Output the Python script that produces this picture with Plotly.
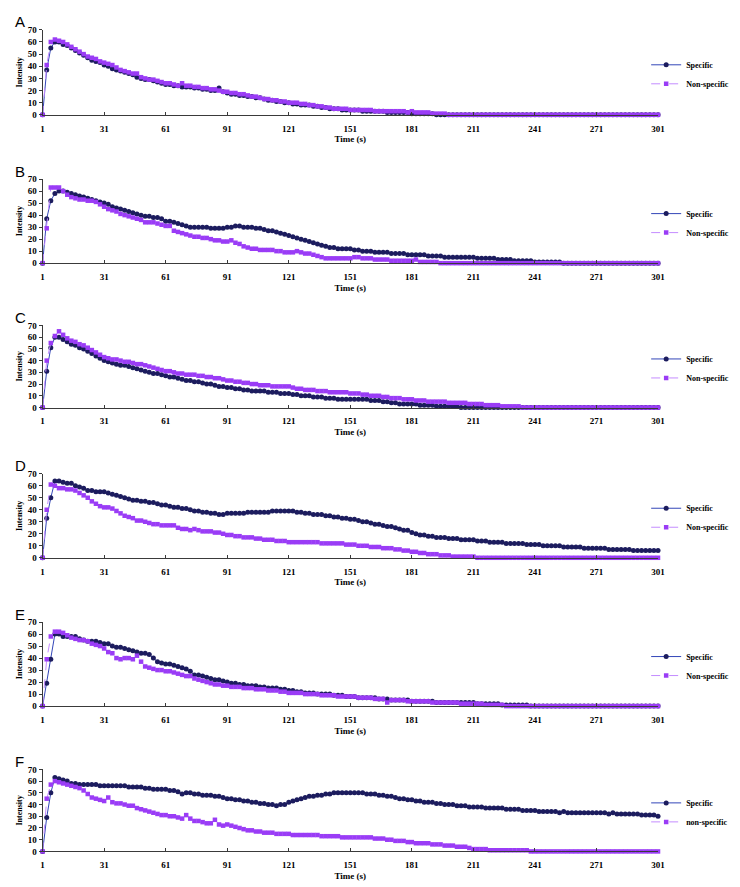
import plotly.graph_objects as go

TIME_S = list(range(1, 302, 2))
X_TICKS = [1, 31, 61, 91, 121, 151, 181, 211, 241, 271, 301]
Y_TICKS = [0, 10, 20, 30, 40, 50, 60, 70]
PANEL_LETTERS = ["A", "B", "C", "D", "E", "F"]
SPEC_NAMES = ["Specific", "Specific", "Specific", "Specific", "Specific", "Specific"]
NON_NAMES = ["Non-specific", "Non-specific", "Non-specific", "Non-specific", "Non-specific", "non-specific"]

A_SPECIFIC = [
    0, 37, 55, 60, 60, 58, 57, 55, 53, 51, 49, 47, 45, 44, 43,
    41, 40, 38, 37, 36, 35, 34, 33, 31, 30, 29, 29, 28, 27, 26,
    25, 25, 24, 24, 23, 23, 23, 22, 22, 21, 21, 20, 20, 22, 19,
    18, 17, 17, 16, 16, 15, 15, 14, 14, 13, 12, 12, 11, 11, 10,
    10, 9, 9, 8, 8, 8, 7, 7, 6, 6, 5, 5, 5, 4, 4,
    4, 4, 4, 3, 3, 3, 3, 3, 3, 2, 2, 2, 2, 2, 2,
    1, 1, 1, 1, 1, 1, 0, 0, 0, 0, 0, 0, 0, 0, 0,
    0, 0, 0, 0, 0, 0, 0, 0, 0, 0, 0, 0, 0, 0, 0,
    0, 0, 0, 0, 0, 0, 0, 0, 0, 0, 0, 0, 0, 0, 0,
    0, 0, 0, 0, 0, 0, 0, 0, 0, 0, 0, 0, 0, 0, 0,
    0]
A_NONSPECIFIC = [
    0, 41, 60, 62, 61, 60, 58, 56, 54, 52, 50, 48, 47, 46, 44,
    43, 42, 41, 39, 37, 36, 35, 34, 34, 31, 30, 29, 29, 28, 27,
    26, 26, 25, 24, 26, 24, 24, 23, 23, 22, 22, 21, 21, 20, 19,
    19, 18, 18, 17, 17, 16, 15, 15, 14, 13, 13, 12, 12, 11, 11,
    10, 10, 10, 9, 9, 8, 8, 7, 7, 6, 6, 5, 5, 5, 5,
    4, 4, 4, 4, 4, 4, 3, 3, 3, 3, 3, 3, 3, 3, 2,
    3, 2, 2, 2, 2, 1, 1, 1, 1, 0, 0, 0, 0, 0, 0,
    0, 0, 0, 0, 0, 0, 0, 0, 0, 0, 0, 0, 0, 0, 0,
    0, 0, 0, 0, 0, 0, 0, 0, 0, 0, 0, 0, 0, 0, 0,
    0, 0, 0, 0, 0, 0, 0, 0, 0, 0, 0, 0, 0, 0, 0,
    0]

B_SPECIFIC = [
    0, 37, 52, 58, 60, 60, 59, 58, 57, 56, 55, 54, 53, 52, 51,
    50, 49, 47, 46, 45, 44, 43, 42, 41, 40, 39, 39, 38, 38, 37,
    35, 35, 34, 33, 32, 31, 30, 30, 30, 30, 30, 29, 29, 29, 29,
    30, 30, 31, 31, 30, 30, 30, 29, 29, 28, 27, 27, 26, 25, 24,
    23, 22, 21, 20, 19, 18, 17, 16, 15, 14, 13, 13, 12, 12, 12,
    12, 11, 11, 10, 10, 10, 9, 9, 9, 9, 8, 8, 8, 8, 7,
    7, 7, 7, 7, 6, 6, 6, 6, 5, 5, 5, 5, 5, 5, 5,
    5, 4, 4, 4, 4, 4, 3, 3, 3, 3, 2, 2, 2, 2, 2,
    1, 1, 1, 1, 1, 1, 1, 0, 0, 0, 0, 0, 0, 0, 0,
    0, 0, 0, 0, 0, 0, 0, 0, 0, 0, 0, 0, 0, 0, 0,
    0]
B_NONSPECIFIC = [
    0, 29, 63, 63, 63, 60, 57, 55, 54, 53, 53, 52, 52, 51, 49,
    47, 45, 44, 43, 41, 40, 39, 38, 37, 36, 34, 34, 34, 33, 32,
    31, 31, 27, 26, 25, 24, 23, 22, 22, 21, 21, 20, 19, 19, 18,
    18, 19, 17, 16, 14, 13, 12, 12, 11, 11, 11, 11, 10, 10, 9,
    9, 9, 10, 9, 8, 8, 7, 6, 5, 4, 4, 4, 4, 4, 4,
    4, 5, 5, 4, 4, 4, 3, 3, 3, 3, 2, 2, 2, 2, 2,
    2, 3, 1, 1, 1, 1, 1, 0, 0, 0, 0, 0, 0, 0, 0,
    0, 0, 0, 0, 0, 0, 0, 0, 0, 0, 0, 0, 0, 0, 0,
    0, 0, 0, 0, 0, 0, 0, 0, 0, 0, 0, 0, 0, 0, 0,
    0, 0, 0, 0, 0, 0, 0, 0, 0, 0, 0, 0, 0, 0, 0,
    0]

C_SPECIFIC = [
    0, 31, 51, 60, 60, 58, 56, 54, 53, 51, 50, 48, 46, 44, 42,
    40, 39, 38, 37, 36, 36, 35, 34, 33, 32, 31, 30, 29, 29, 28,
    27, 26, 26, 25, 24, 23, 23, 22, 22, 21, 20, 20, 19, 18, 18,
    17, 17, 16, 16, 15, 15, 14, 14, 14, 14, 13, 13, 13, 12, 12,
    12, 11, 11, 10, 10, 10, 9, 9, 9, 8, 8, 8, 7, 7, 7,
    7, 7, 7, 7, 7, 6, 6, 6, 5, 5, 4, 4, 3, 3, 3,
    3, 3, 2, 2, 2, 2, 1, 1, 1, 1, 1, 1, 0, 0, 0,
    0, 0, 0, 0, 0, 0, 0, 0, 0, 0, 0, 0, 0, 0, 0,
    0, 0, 0, 0, 0, 0, 0, 0, 0, 0, 0, 0, 0, 0, 0,
    0, 0, 0, 0, 0, 0, 0, 0, 0, 0, 0, 0, 0, 0, 0,
    0]
C_NONSPECIFIC = [
    0, 40, 55, 61, 65, 62, 59, 57, 56, 54, 53, 51, 49, 47, 45,
    43, 42, 41, 41, 40, 39, 39, 38, 37, 37, 36, 35, 34, 33, 32,
    31, 31, 30, 29, 29, 28, 28, 28, 27, 27, 26, 26, 25, 25, 24,
    23, 23, 22, 22, 21, 21, 20, 20, 19, 19, 19, 18, 18, 18, 18,
    18, 17, 16, 16, 15, 15, 15, 14, 14, 14, 13, 13, 13, 13, 13,
    12, 12, 12, 11, 11, 10, 10, 10, 9, 9, 8, 8, 8, 7, 7,
    7, 6, 6, 6, 5, 5, 5, 5, 5, 4, 4, 4, 4, 4, 3,
    3, 3, 3, 2, 2, 2, 2, 1, 1, 1, 1, 1, 0, 0, 0,
    0, 0, 0, 0, 0, 0, 0, 0, 0, 0, 0, 0, 0, 0, 0,
    0, 0, 0, 0, 0, 0, 0, 0, 0, 0, 0, 0, 0, 0, 0,
    0]

D_SPECIFIC = [
    0, 33, 50, 64, 64, 63, 62, 62, 60, 59, 58, 56, 56, 55, 55,
    55, 54, 53, 52, 51, 50, 49, 48, 48, 47, 47, 46, 46, 45, 44,
    44, 43, 42, 42, 41, 41, 40, 39, 39, 38, 38, 37, 37, 36, 36,
    37, 37, 37, 37, 37, 38, 38, 38, 38, 38, 38, 39, 39, 39, 39,
    39, 39, 38, 38, 37, 37, 36, 36, 36, 35, 35, 34, 34, 33, 33,
    32, 32, 31, 30, 30, 29, 28, 28, 27, 26, 26, 25, 24, 23, 23,
    21, 20, 19, 19, 18, 18, 17, 17, 17, 16, 16, 16, 15, 15, 15,
    15, 14, 14, 14, 13, 13, 13, 13, 12, 12, 12, 12, 12, 11, 11,
    11, 11, 10, 10, 10, 10, 10, 9, 9, 9, 9, 9, 8, 8, 8,
    8, 8, 8, 7, 7, 7, 7, 7, 7, 6, 6, 6, 6, 6, 6,
    6]
D_NONSPECIFIC = [
    0, 40, 61, 60, 58, 58, 57, 57, 56, 54, 52, 50, 47, 45, 43,
    42, 42, 41, 39, 37, 35, 34, 33, 31, 31, 30, 29, 28, 28, 27,
    27, 27, 27, 25, 24, 24, 23, 24, 23, 22, 22, 22, 21, 21, 20,
    19, 19, 18, 18, 17, 17, 17, 16, 16, 15, 15, 15, 14, 14, 14,
    13, 13, 13, 13, 13, 13, 13, 13, 12, 12, 12, 12, 12, 12, 11,
    11, 11, 10, 10, 10, 9, 9, 9, 8, 8, 8, 7, 7, 6, 6,
    5, 5, 4, 4, 3, 3, 3, 2, 2, 2, 1, 1, 1, 1, 1,
    1, 0, 0, 0, 0, 0, 0, 0, 0, 0, 0, 0, 0, 0, 0,
    0, 0, 0, 0, 0, 0, 0, 0, 0, 0, 0, 0, 0, 0, 0,
    0, 0, 0, 0, 0, 0, 0, 0, 0, 0, 0, 0, 0, 0, 0,
    0]

E_SPECIFIC = [
    0, 19, 39, 60, 60, 58, 58, 58, 58, 56, 55, 54, 54, 54, 53,
    52, 52, 50, 49, 49, 48, 47, 46, 45, 44, 44, 43, 40, 37, 36,
    35, 35, 34, 33, 32, 31, 29, 26, 26, 25, 24, 23, 22, 22, 21,
    20, 19, 19, 18, 18, 17, 17, 17, 16, 16, 15, 15, 15, 14, 14,
    13, 13, 12, 12, 11, 11, 11, 10, 10, 10, 10, 9, 9, 9, 8,
    8, 8, 7, 7, 7, 7, 7, 6, 6, 6, 5, 5, 5, 5, 5,
    4, 4, 4, 4, 4, 4, 3, 3, 3, 3, 3, 3, 3, 3, 3,
    3, 2, 2, 2, 2, 2, 2, 1, 1, 1, 1, 1, 1, 1, 0,
    0, 0, 0, 0, 0, 0, 0, 0, 0, 0, 0, 0, 0, 0, 0,
    0, 0, 0, 0, 0, 0, 0, 0, 0, 0, 0, 0, 0, 0, 0,
    0]
E_NONSPECIFIC = [
    0, 39, 58, 62, 62, 61, 59, 57, 56, 55, 55, 54, 52, 51, 50,
    48, 45, 44, 40, 39, 40, 40, 39, 42, 37, 33, 32, 31, 30, 30,
    29, 29, 28, 27, 26, 25, 25, 23, 22, 21, 20, 19, 18, 18, 17,
    17, 16, 16, 16, 15, 15, 15, 14, 14, 14, 13, 13, 13, 12, 12,
    11, 11, 11, 11, 10, 10, 10, 10, 9, 9, 9, 9, 8, 8, 8,
    8, 8, 7, 7, 7, 7, 6, 6, 6, 3, 5, 5, 5, 5, 4,
    4, 4, 4, 4, 4, 3, 3, 3, 3, 3, 3, 3, 2, 2, 2,
    2, 2, 2, 1, 1, 1, 1, 1, 0, 0, 0, 0, 0, 0, 0,
    0, 0, 0, 0, 0, 0, 0, 0, 0, 0, 0, 0, 0, 0, 0,
    0, 0, 0, 0, 0, 0, 0, 0, 0, 0, 0, 0, 0, 0, 0,
    0]

F_SPECIFIC = [
    0, 29, 50, 63, 62, 61, 60, 58, 58, 57, 57, 57, 57, 57, 56,
    56, 56, 56, 56, 56, 56, 55, 55, 55, 55, 54, 54, 53, 53, 53,
    53, 52, 52, 51, 49, 50, 50, 49, 49, 48, 48, 48, 47, 47, 46,
    45, 45, 44, 44, 43, 43, 42, 42, 41, 41, 40, 40, 39, 40, 40,
    42, 43, 44, 45, 46, 47, 47, 48, 48, 49, 49, 50, 50, 50, 50,
    50, 50, 50, 50, 49, 49, 49, 48, 48, 47, 47, 46, 45, 45, 44,
    44, 43, 43, 42, 42, 42, 41, 41, 40, 40, 40, 39, 39, 39, 38,
    38, 38, 38, 37, 37, 37, 37, 37, 36, 36, 36, 36, 35, 35, 35,
    35, 34, 34, 34, 34, 34, 33, 34, 33, 33, 33, 33, 33, 33, 33,
    33, 33, 33, 32, 33, 32, 32, 32, 32, 32, 32, 31, 31, 31, 31,
    30]
F_NONSPECIFIC = [
    0, 45, 57, 60, 59, 58, 57, 56, 55, 54, 52, 49, 46, 45, 44,
    43, 46, 42, 41, 41, 40, 39, 39, 37, 36, 35, 34, 33, 32, 31,
    31, 30, 30, 29, 28, 31, 28, 26, 26, 25, 24, 24, 27, 23, 22,
    23, 22, 21, 20, 19, 18, 18, 17, 17, 16, 16, 16, 15, 15, 15,
    15, 14, 14, 14, 14, 14, 14, 14, 13, 13, 13, 13, 13, 12, 12,
    12, 12, 12, 12, 12, 12, 11, 11, 11, 10, 10, 9, 9, 9, 8,
    8, 7, 7, 7, 7, 6, 6, 6, 5, 5, 5, 4, 4, 4, 3,
    2, 2, 2, 2, 1, 1, 1, 1, 1, 1, 1, 1, 1, 1, 0,
    0, 0, 0, 0, 0, 0, 0, 0, 0, 0, 0, 0, 0, 0, 0,
    0, 0, 0, 0, 0, 0, 0, 0, 0, 0, 0, 0, 0, 0, 0,
    0]

SPECIFIC = [A_SPECIFIC, B_SPECIFIC, C_SPECIFIC, D_SPECIFIC, E_SPECIFIC, F_SPECIFIC]
NONSPECIFIC = [A_NONSPECIFIC, B_NONSPECIFIC, C_NONSPECIFIC, D_NONSPECIFIC, E_NONSPECIFIC, F_NONSPECIFIC]

for name, arr in zip("ABCDEF", SPECIFIC):
    assert len(arr) == len(TIME_S), (name, "spec", len(arr))
for name, arr in zip("ABCDEF", NONSPECIFIC):
    assert len(arr) == len(TIME_S), (name, "non", len(arr))

# ---------------- layout / style ----------------
W, H = 740, 887
PLOT_X0, PLOT_X1 = 33, 656
PANEL_BOX = [(17, 103), (168, 253), (316, 399), (466, 551), (616, 701), (765, 848)]

NAVY = "#1c1c5e"
NAVY_LINE = "#3346b8"
PURPLE = "#9a3cf6"
PURPLE_LINE = "#c48cff"
AXIS_COLOR = "#3a3a3a"

SERIF = "Liberation Serif"
tick_font = dict(family=SERIF, size=9, color="black", weight="bold")

fig = go.Figure()
layout = {}
annotations = []

for i in range(6):
    suffix = "" if i == 0 else str(i + 1)
    xname, yname = "x" + suffix, "y" + suffix
    legname = "legend" + suffix
    top, bot = PANEL_BOX[i]

    fig.add_trace(go.Scatter(
        x=TIME_S, y=SPECIFIC[i], name=SPEC_NAMES[i], mode="lines+markers",
        xaxis=xname, yaxis=yname, legend=legname, cliponaxis=False,
        line=dict(color=NAVY_LINE, width=1),
        marker=dict(symbol="circle", size=5, color=NAVY, line=dict(width=0)),
    ))
    fig.add_trace(go.Scatter(
        x=TIME_S, y=NONSPECIFIC[i], name=NON_NAMES[i], mode="lines+markers",
        xaxis=xname, yaxis=yname, legend=legname, cliponaxis=False,
        line=dict(color=PURPLE_LINE, width=1, dash="dash"),
        marker=dict(symbol="square", size=4.5, color=PURPLE, line=dict(width=0)),
    ))

    layout["xaxis" + suffix] = dict(
        domain=[PLOT_X0 / W, PLOT_X1 / W], range=[1, 301], anchor=yname,
        tickmode="array", tickvals=X_TICKS, ticktext=[str(v) for v in X_TICKS],
        ticks="inside", ticklen=3, tickcolor=AXIS_COLOR, ticklabelstandoff=5,
        showline=True, linecolor=AXIS_COLOR, linewidth=1,
        showgrid=False, zeroline=False, tickfont=tick_font,
        title=dict(text="Time (s)", font=dict(family=SERIF, size=9, color="black", weight="bold"), standoff=3),
    )
    layout["yaxis" + suffix] = dict(
        domain=[1 - bot / H, 1 - top / H], range=[0, 70], anchor=xname,
        tickmode="array", tickvals=Y_TICKS, ticktext=[str(v) for v in Y_TICKS],
        ticks="outside", ticklen=3, tickcolor=AXIS_COLOR,
        showline=True, linecolor=AXIS_COLOR, linewidth=1,
        showgrid=False, zeroline=False, tickfont=tick_font,
        title=dict(text="Intensity", font=dict(family=SERIF, size=8, color="black", weight="bold"), standoff=3),
    )
    layout[legname] = dict(
        x=644 / W, y=1 - ((top + bot) / 2 + 2) / H, xanchor="left", yanchor="middle",
        font=dict(family=SERIF, size=8, color="black", weight="bold"),
        bgcolor="rgba(0,0,0,0)", borderwidth=0, itemwidth=30,
    )
    annotations.append(dict(
        text=PANEL_LETTERS[i], xref="paper", yref="paper",
        x=3 / W, y=1 - (top - 8) / H, xanchor="left", yanchor="middle",
        showarrow=False, font=dict(family="Liberation Sans", size=15, color="black"),
    ))

fig.update_layout(
    width=W, height=H, margin=dict(l=0, r=0, t=0, b=0),
    paper_bgcolor="white", plot_bgcolor="white",
    showlegend=True, annotations=annotations, **layout,
)

fig.write_html("out.html")
